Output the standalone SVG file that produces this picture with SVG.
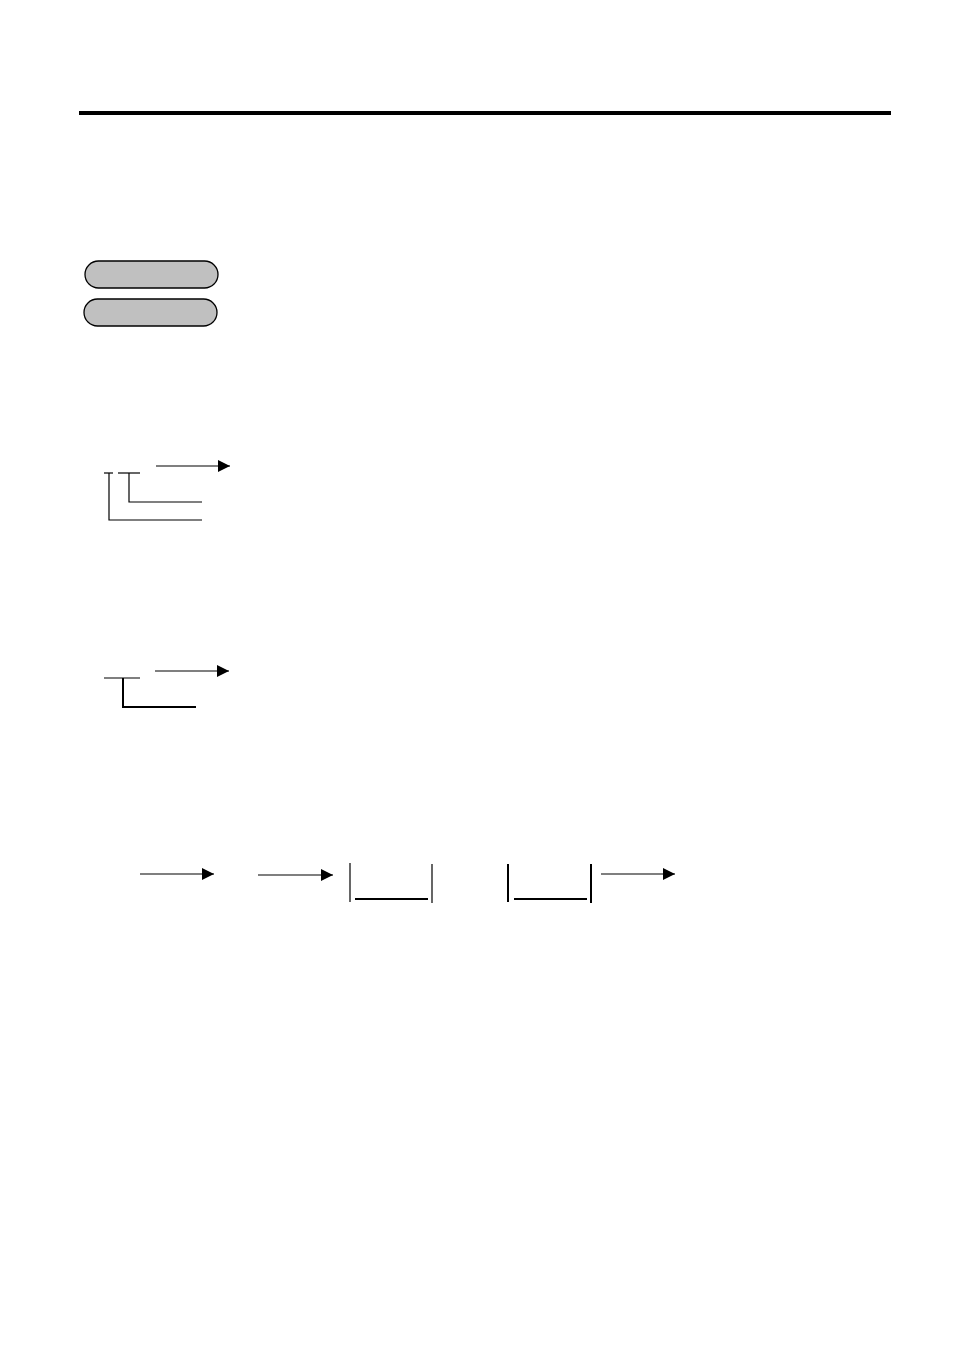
<svg xmlns="http://www.w3.org/2000/svg" width="954" height="1351" viewBox="0 0 954 1351">
<style>
.ln{stroke:#000;stroke-width:1.2;fill:none}
.thk{stroke:#000;stroke-width:2;fill:none}
.pill{fill:#c0c0c0;stroke:#000;stroke-width:1.3}
</style>
<defs>
<marker id="ah" markerUnits="userSpaceOnUse" markerWidth="13" markerHeight="13" refX="12" refY="6" orient="auto">
<path d="M0,0 L12,6 L0,12 Z" fill="#000"/>
</marker>
</defs>
<rect width="954" height="1351" fill="#fff"/>
<g id="rule"><line x1="79" y1="113" x2="891" y2="113" stroke="#000" stroke-width="4"/></g>
<g id="pill1"><rect class="pill" x="85" y="261" width="133" height="27" rx="13.5"/></g>
<g id="pill2"><rect class="pill" x="84" y="299" width="133" height="27" rx="13.5"/></g>
<g id="connectors">
<g id="tree1">
<line class="ln" x1="104" y1="473" x2="113" y2="473"/>
<line class="ln" x1="118" y1="473" x2="140" y2="473"/>
<line class="ln" x1="156" y1="466" x2="230" y2="466" marker-end="url(#ah)"/>
<polyline class="ln" points="129,473 129,502 202,502"/>
<polyline class="ln" points="109,473 109,520 202,520"/>
</g>
<g id="tree2">
<line class="ln" x1="104" y1="678" x2="140" y2="678"/>
<line class="ln" x1="155" y1="671" x2="229" y2="671" marker-end="url(#ah)"/>
<polyline class="thk" points="123,678 123,707 196,707"/>
</g>
<g id="flow">
<line class="ln" x1="140" y1="874" x2="214" y2="874" marker-end="url(#ah)"/>
<line class="ln" x1="258" y1="875" x2="333" y2="875" marker-end="url(#ah)"/>
<line class="ln" x1="350" y1="863" x2="350" y2="902"/>
<line class="thk" x1="355" y1="899" x2="428" y2="899"/>
<line class="ln" x1="432" y1="864" x2="432" y2="903"/>
<line class="thk" x1="508" y1="864" x2="508" y2="902"/>
<line class="thk" x1="514" y1="899" x2="587" y2="899"/>
<line class="thk" x1="591" y1="864" x2="591" y2="903"/>
<line class="ln" x1="601" y1="874" x2="675" y2="874" marker-end="url(#ah)"/>
</g>
</g>
</svg>
